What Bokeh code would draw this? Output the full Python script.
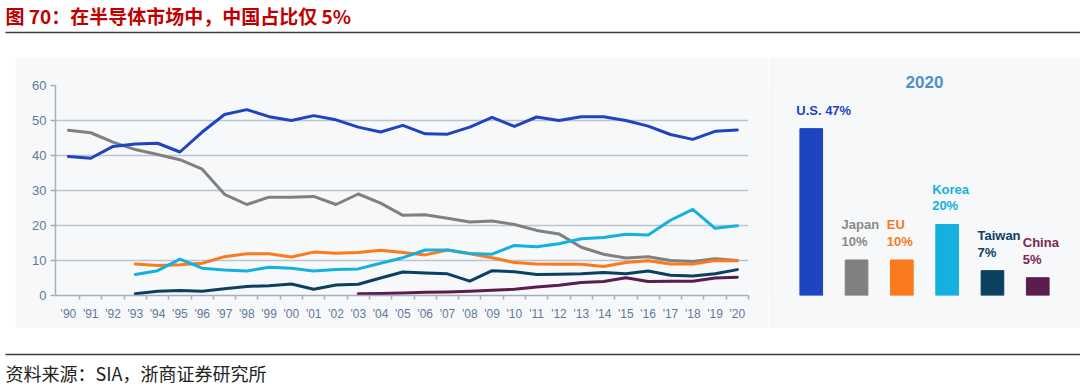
from bokeh.plotting import figure
from bokeh.models import Range1d, FactorRange, FixedTicker, Spacer, ColumnDataSource
from bokeh.layouts import column, row
from bokeh.core.properties import value
from bokeh.embed import file_html
from bokeh.resources import INLINE

# ---------------- data ----------------
title_text = "图 70：在半导体市场中，中国占比仅 5%"
source_text = "资料来源：SIA，浙商证券研究所"

years = list(range(1990, 2021))
year_labels = ["'90", "'91", "'92", "'93", "'94", "'95", "'96", "'97", "'98", "'99",
               "'00", "'01", "'02", "'03", "'04", "'05", "'06", "'07", "'08", "'09",
               "'10", "'11", "'12", "'13", "'14", "'15", "'16", "'17", "'18", "'19", "'20"]
y_ticks = [0, 10, 20, 30, 40, 50, 60]

us = [39.7, 39.2, 42.6, 43.3, 43.5, 41.0, 46.7, 51.7, 53.1, 51.1, 50.0, 51.4, 50.2, 48.1, 46.7,
      48.6, 46.2, 46.1, 48.1, 50.9, 48.3, 51.0, 50.0, 51.1, 51.1, 50.0, 48.4, 46.0, 44.6, 46.9, 47.3]
japan = [47.2, 46.5, 43.8, 41.7, 40.3, 38.8, 36.1, 28.9, 26.0, 28.1, 28.1, 28.3, 26.0, 29.0, 26.4,
         22.9, 23.1, 22.1, 21.0, 21.3, 20.3, 18.6, 17.6, 13.8, 11.8, 10.7, 11.1, 10.0, 9.7, 10.5, 10.0]
years_93 = list(range(1993, 2021))
eu = [9.0, 8.6, 8.8, 9.2, 11.1, 11.9, 11.9, 11.0, 12.4, 12.1, 12.3, 12.9, 12.3, 11.6, 13.0, 11.9,
      10.8, 9.4, 9.0, 8.9, 8.9, 8.3, 9.4, 9.9, 9.0, 9.0, 10.0, 9.9]
korea = [6.0, 7.1, 10.4, 7.8, 7.3, 7.0, 8.1, 7.8, 7.0, 7.4, 7.6, 9.2, 10.8, 13.0, 13.0, 12.0,
         11.8, 14.3, 13.9, 14.8, 16.2, 16.6, 17.5, 17.3, 21.5, 24.6, 19.2, 19.9]
taiwan = [0.5, 1.2, 1.4, 1.2, 1.9, 2.6, 2.8, 3.3, 1.8, 3.0, 3.2, 5.0, 6.7, 6.4, 6.2, 4.1,
          7.1, 6.8, 6.0, 6.1, 6.2, 6.6, 6.2, 7.0, 5.8, 5.6, 6.2, 7.4]
years_03 = list(range(2003, 2021))
china = [0.5, 0.6, 0.7, 0.9, 1.0, 1.2, 1.5, 1.8, 2.4, 2.9, 3.7, 4.0, 5.1, 4.0, 4.1, 4.1, 5.0, 5.2]

bar_year = "2020"
countries = ["U.S.", "Japan", "EU", "Korea", "Taiwan", "China"]
share_2020 = [47, 10, 10, 20, 7, 5]

# ---------------- styles ----------------
C_US, C_JP, C_EU, C_KR, C_TW, C_CN = "#1f44c0", "#808080", "#fa7a1c", "#14b0de", "#0c4060", "#5b1c4e"
bar_colors = [C_US, C_JP, C_EU, C_KR, C_TW, C_CN]
label_colors = [C_US, "#8a8a8a", C_EU, C_KR, C_TW, "#82244f"]
BG = "#f7f8fa"
AX = "#a3b0c0"
TICK_TXT = "#62799a"
CJK = value("Noto Sans CJK SC")
LAT = value("Liberation Sans")
W = 1080


def deco_fig(h):
    p = figure(width=W, height=h, x_range=Range1d(0, W), y_range=Range1d(h, 0),
               output_backend="svg", toolbar_location=None, min_border=0,
               x_axis_location=None, y_axis_location=None)
    p.grid.visible = False
    p.outline_line_color = None
    return p


# header
header = deco_fig(57)
header.segment(x0=[5], y0=[32], x1=[W], y1=[32], line_color="#3c3c3c", line_width=1.5)
header.text(x=[5], y=[15], text=[title_text], text_font=CJK, text_font_style="bold",
            text_font_size="19px", text_color="#c00000", text_baseline="middle", text_align="left")

# footer
footer = deco_fig(60)
footer.segment(x0=[5], y0=[26], x1=[W], y1=[26], line_color="#3c3c3c", line_width=1.5)
footer.text(x=[5], y=[44], text=[source_text], text_font=CJK, text_font_size="18px",
            text_color="#222222", text_baseline="middle", text_align="left")

# line chart
p = figure(width=753, height=271, x_range=Range1d(1989.42, 2020.5), y_range=Range1d(0, 60),
           output_backend="svg", toolbar_location=None,
           min_border_left=40, min_border_right=20, min_border_top=28, min_border_bottom=33)
p.background_fill_color = BG
p.border_fill_color = BG
p.outline_line_color = None

p.xaxis.ticker = FixedTicker(ticks=years, minor_ticks=[y + 0.5 for y in years])
p.xaxis.major_label_overrides = dict(zip(years, year_labels))
p.xaxis.major_tick_line_color = None
p.xaxis.major_tick_out = 0
p.xaxis.major_tick_in = 0
p.xaxis.minor_tick_out = 4
p.xaxis.minor_tick_in = 0
p.xaxis.minor_tick_line_color = AX
p.xaxis.minor_tick_line_width = 1.5
p.xaxis.axis_line_color = AX
p.xaxis.axis_line_width = 1.5
p.xaxis.major_label_standoff = 7
p.xaxis.major_label_text_font = "Liberation Sans"
p.xaxis.major_label_text_font_size = "12px"
p.xaxis.major_label_text_color = TICK_TXT

p.yaxis.ticker = FixedTicker(ticks=y_ticks)
p.yaxis.axis_line_color = AX
p.yaxis.axis_line_width = 1.5
p.yaxis.major_tick_line_color = AX
p.yaxis.major_tick_line_width = 1.5
p.yaxis.major_tick_out = 5
p.yaxis.major_tick_in = 0
p.yaxis.minor_tick_line_color = None
p.yaxis.major_label_standoff = 4
p.yaxis.major_label_text_font = "Liberation Sans"
p.yaxis.major_label_text_font_size = "13px"
p.yaxis.major_label_text_color = TICK_TXT

p.xgrid.visible = False
p.ygrid.grid_line_color = "#bac4d0"
p.ygrid.grid_line_width = 1.5

for xs, ys, c in [(years, japan, C_JP), (years_93, eu, C_EU), (years_93, korea, C_KR),
                  (years_93, taiwan, C_TW), (years_03, china, C_CN), (years, us, C_US)]:
    p.line(xs, ys, line_color=c, line_width=3, line_join="round", line_cap="round")

# bar chart (frame shares top/bottom borders with the line chart in the row)
bar_labels = [f"{c} {v}%" if i == 0 else f"{c}\n{v}%" for i, (c, v) in enumerate(zip(countries, share_2020))]
src = ColumnDataSource(dict(country=countries, share=share_2020, color=bar_colors,
                            lcolor=label_colors, label=bar_labels))
q = figure(width=312, height=271, title=bar_year,
           x_range=FactorRange(*countries, range_padding=0.311, range_padding_units="absolute"),
           y_range=Range1d(0, 59.15), output_backend="svg", toolbar_location=None,
           min_border_left=6, min_border_right=6, min_border_top=28, min_border_bottom=33,
           x_axis_location=None, y_axis_location=None)
q.title.align = "center"
q.title.text_font = "Liberation Sans"
q.title.text_font_style = "bold"
q.title.text_font_size = "17px"
q.title.text_color = "#4f8fc6"
q.title.standoff = -5
q.background_fill_color = BG
q.border_fill_color = BG
q.outline_line_color = None
q.grid.visible = False
q.vbar(x="country", top="share", width=0.5, color="color", source=src)
q.text(x="country", y="share", text="label", source=src, x_offset=-15, y_offset=-11,
       text_align="left", text_baseline="bottom", text_font=LAT, text_font_style="bold",
       text_font_size="13px", text_color="lcolor", text_line_height=1.1)

layout = column(header, row(Spacer(width=15, height=271), p, q), footer)
open("out.html", "w").write(file_html(layout, INLINE))
